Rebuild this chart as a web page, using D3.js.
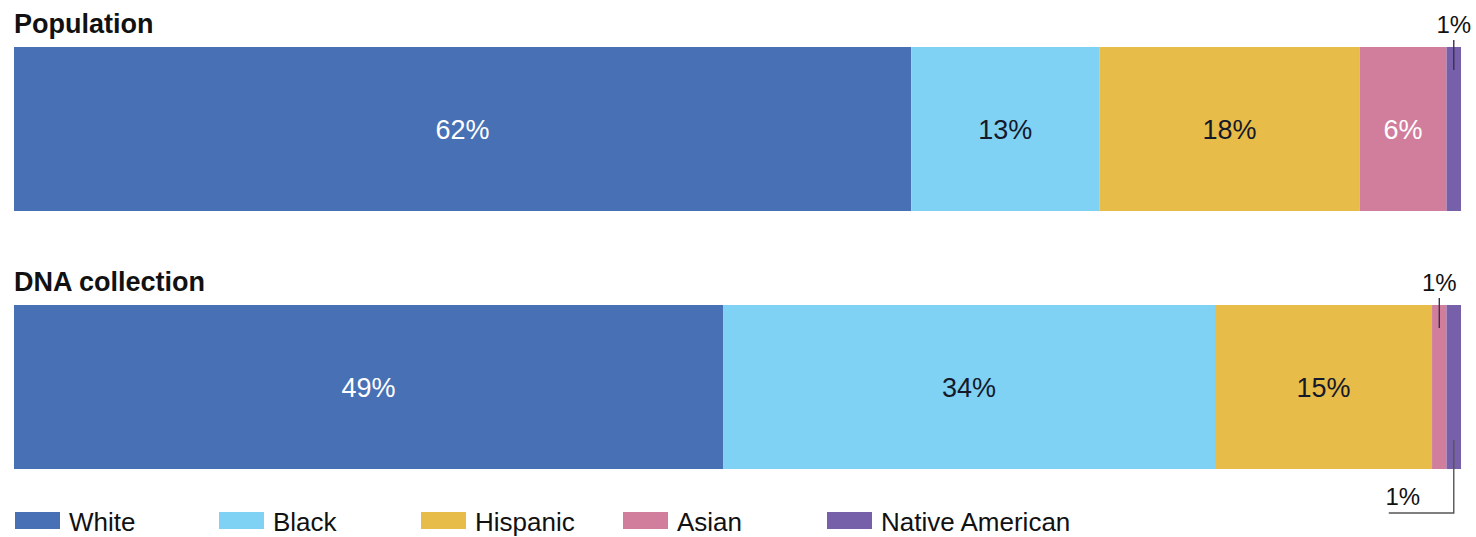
<!DOCTYPE html>
<html><head><meta charset="utf-8">
<script src="https://cdn.jsdelivr.net/npm/d3@7"></script>
<style>
html,body{margin:0;padding:0;background:#fff;}
svg text{font-family:"Liberation Sans",Arial,Helvetica,sans-serif;}
</style></head>
<body><svg id="chart" width="1476" height="537"></svg>
<script>
const categories = ["White","Black","Hispanic","Asian","Native American"];
const groups = ["Population","DNA collection"];
const populationValues = [62,13,18,6,1];
const dnaValues = [49,34,15,1,1];
const colors = ["#4870b4","#80d2f4","#e8bc48","#d07e9c","#7660aa"];
const labelColors = ["#ffffff","#15192a","#15192a","#ffffff","#ffffff"];

const svg = d3.select("#chart");
const x = d3.scaleLinear().domain([0,100]).range([14,1461]);
const y = d3.scaleBand().domain(groups).range([47,469]).paddingInner(94/258).paddingOuter(0);
const color = d3.scaleOrdinal().domain(categories).range(colors);

const series = [populationValues, dnaValues];

groups.forEach((g,gi)=>{
  const vals = series[gi];
  let acc = 0;
  const segs = vals.map((v,i)=>{const s={cat:categories[i],v,start:acc,end:acc+v,i}; acc+=v; return s;});
  const gy = y(g), bh = y.bandwidth();
  svg.append("text").attr("x",14).attr("y",gy-14)
    .attr("font-size",27).attr("font-weight","bold").attr("fill","#111").text(g);
  svg.append("g").selectAll("rect").data(segs).join("rect")
    .attr("x",d=>x(d.start)).attr("y",gy)
    .attr("width",d=>x(d.end)-x(d.start)).attr("height",bh)
    .attr("fill",d=>color(d.cat));
  svg.append("g").selectAll("text").data(segs.filter(d=>d.v>=5)).join("text")
    .attr("x",d=>(x(d.start)+x(d.end))/2).attr("y",gy+bh/2+10)
    .attr("text-anchor","middle").attr("font-size",27)
    .attr("fill",d=>labelColors[d.i]).text(d=>d.v+"%");
  const small = segs.filter(d=>d.v<5);
  small.forEach(d=>{
    const cx = (x(d.start)+x(d.end))/2;
    const isBelow = gi===1 && d.cat==="Native American";
    if(!isBelow){
      svg.append("line").attr("x1",cx).attr("x2",cx).attr("y1",gy-7).attr("y2",gy+23)
        .attr("stroke","#3a3050").attr("stroke-width",1.4);
      svg.append("text").attr("x",cx).attr("y",gy-14).attr("text-anchor","middle")
        .attr("font-size",24).attr("fill","#111").text(d.v+"%");
    } else {
      const yb = gy+bh;
      svg.append("path").attr("d",`M${cx},${yb-29}V${yb+44}H${cx-65}`)
        .attr("fill","none").attr("stroke","#555").attr("stroke-width",1.4);
      svg.append("text").attr("x",cx-51).attr("y",yb+36).attr("text-anchor","middle")
        .attr("font-size",24).attr("fill","#111").text(d.v+"%");
    }
  });
});

const legendX = [14,218,420,622,826];
const lg = svg.append("g").selectAll("g").data(categories).join("g")
  .attr("transform",(d,i)=>`translate(${legendX[i]},512)`);
lg.append("rect").attr("x",1).attr("y",0).attr("width",45).attr("height",17).attr("fill",d=>color(d));
lg.append("text").attr("x",55).attr("y",19).attr("font-size",26).attr("fill","#111").text(d=>d);
</script></body></html>
